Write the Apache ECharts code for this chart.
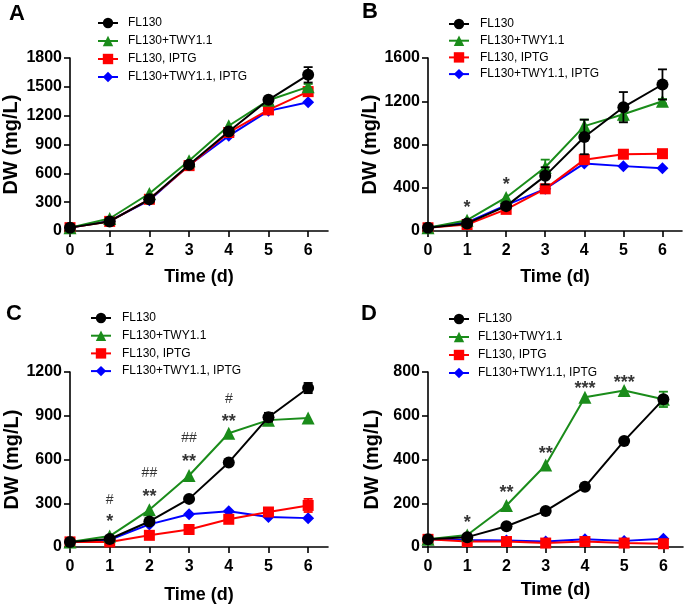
<!DOCTYPE html>
<html>
<head>
<meta charset="utf-8">
<script src="https://cdn.jsdelivr.net/npm/echarts@6/dist/echarts.min.js"></script>
<style>
  html, body { margin: 0; padding: 0; background: #fff; }
  #chart { width: 685px; height: 608px; }
</style>
</head>
<body>
<div id="chart"></div>
<script>
// ---------- data ----------
const days = [0, 1, 2, 3, 4, 5, 6];
const xTicks = [0, 1, 2, 3, 4, 5, 6];
const seriesNames = ['FL130', 'FL130+TWY1.1', 'FL130, IPTG', 'FL130+TWY1.1, IPTG'];

// Panel A
const A_fl130 = [35, 100, 330, 690, 1035, 1365, 1625];
const A_twy = [35, 130, 390, 730, 1095, 1360, 1500];
const A_iptg = [35, 100, 330, 680, 1025, 1260, 1450];
const A_twyIptg = [35, 105, 320, 685, 990, 1250, 1340];
const A_fl130Err = [0, 0, 0, 0, 0, 25, 80];
const A_twyErr = [0, 0, 0, 0, 0, 0, 30];
const A_iptgErr = [0, 0, 0, 0, 0, 0, 45];
const A_twyIptgErr = [0, 0, 0, 0, 0, 0, 0];

// Panel B
const B_fl130 = [30, 70, 230, 510, 870, 1145, 1355];
const B_twy = [30, 100, 310, 590, 970, 1080, 1200];
const B_iptg = [30, 60, 200, 390, 660, 710, 715];
const B_twyIptg = [30, 80, 240, 390, 625, 600, 580];
const B_fl130Err = [0, 10, 20, 80, 160, 140, 140];
const B_twyErr = [0, 0, 0, 70, 60, 60, 20];
const B_iptgErr = [0, 0, 0, 0, 0, 0, 0];
const B_twyIptgErr = [0, 0, 0, 0, 0, 0, 0];

// Panel C
const C_fl130 = [35, 55, 175, 330, 580, 890, 1090];
const C_twy = [35, 75, 255, 490, 780, 870, 885];
const C_iptg = [35, 35, 80, 120, 190, 240, 285];
const C_twyIptg = [35, 50, 155, 225, 245, 205, 198];
const C_fl130Err = [0, 0, 0, 0, 0, 30, 35];
const C_twyErr = [0, 0, 0, 0, 0, 0, 0];
const C_iptgErr = [0, 0, 0, 0, 0, 0, 45];
const C_twyIptgErr = [0, 0, 0, 0, 0, 0, 0];

// Panel D
const D_fl130 = [35, 45, 95, 165, 275, 485, 675];
const D_twy = [35, 55, 190, 375, 685, 715, 675];
const D_iptg = [35, 25, 25, 18, 25, 18, 15];
const D_twyIptg = [35, 32, 30, 25, 35, 28, 38];
const D_fl130Err = [0, 0, 0, 0, 0, 0, 15];
const D_twyErr = [0, 0, 0, 0, 0, 0, 35];
const D_iptgErr = [0, 0, 0, 0, 0, 0, 0];
const D_twyIptgErr = [0, 0, 0, 0, 0, 0, 0];

// y-axis ranges
const yMax = [1800, 1600, 1200, 800];
const yInterval = [300, 400, 300, 200];

// significance annotations [day, DW, text]
const annA = [];
const annB = [[1, 260, '*'], [2, 470, '*']];
const annC = [[1, 205, '*'], [2, 380, '**'], [3, 620, '**'], [4, 893, '**'],
              [1, 319, '#'], [2, 505, '##'], [3, 745, '##'], [4, 1013, '#']];
const annD = [[1, 132, '*'], [2, 269, '**'], [3, 448, '**'], [4, 747, '***'], [5, 774, '***']];

const panelLetters = ['A', 'B', 'C', 'D'];

// ---------- styling / layout ----------
const FONT = 'Liberation Sans, Arial, Helvetica, sans-serif';
const colors = ['#000000', '#1a8c1a', '#ff0000', '#0000ff'];
const symbols = ['circle', 'triangle', 'rect', 'diamond'];
const symbolSizes = [12, 13, 11, 12];
const zOrder = [6, 5, 4, 3];

const grids = [
  { left: 70, top: 58, width: 258, height: 173 },
  { left: 428, top: 58, width: 254, height: 173 },
  { left: 70, top: 372, width: 258, height: 175 },
  { left: 428, top: 372, width: 255, height: 175 }
];
const yNameGap = [49, 46, 48, 46];
const xNameGap = [37, 37, 39, 34];
const legendPos = [
  { left: 97, top: 16.5, gap: 5, pad: 5 },
  { left: 448, top: 17.5, gap: 3.7, pad: 6 },
  { left: 90, top: 311.5, gap: 4.7, pad: 6 },
  { left: 448, top: 312.5, gap: 5, pad: 4 }
];
const letterPos = [
  { left: 9, top: 3 }, { left: 362, top: 1 }, { left: 6, top: 303 }, { left: 361, top: 303 }
];

const panels = [
  { vals: [A_fl130, A_twy, A_iptg, A_twyIptg], errs: [A_fl130Err, A_twyErr, A_iptgErr, A_twyIptgErr], ann: annA },
  { vals: [B_fl130, B_twy, B_iptg, B_twyIptg], errs: [B_fl130Err, B_twyErr, B_iptgErr, B_twyIptgErr], ann: annB },
  { vals: [C_fl130, C_twy, C_iptg, C_twyIptg], errs: [C_fl130Err, C_twyErr, C_iptgErr, C_twyIptgErr], ann: annC },
  { vals: [D_fl130, D_twy, D_iptg, D_twyIptg], errs: [D_fl130Err, D_twyErr, D_iptgErr, D_twyIptgErr], ann: annD }
];

const axisLineStyle = { color: '#000', width: 1.6 };

const option = {
  animation: false,
  backgroundColor: '#fff',
  title: panelLetters.map((t, i) => ({
    text: t, left: letterPos[i].left, top: letterPos[i].top, padding: 0,
    textStyle: { fontSize: 22, fontWeight: 'bold', color: '#000', fontFamily: FONT }
  })),
  grid: grids.map(g => Object.assign({ containLabel: false }, g)),
  legend: legendPos.map(l => ({
    data: seriesNames,
    orient: 'vertical',
    left: l.left, top: l.top,
    itemWidth: 20, itemHeight: 13, itemGap: l.gap,
    padding: 0,
    selectedMode: false,
    textStyle: { fontSize: 12, color: '#000', fontFamily: FONT, padding: [0, 0, 0, l.pad], lineHeight: 13 }
  })),
  xAxis: grids.map((g, i) => ({
    gridIndex: i, type: 'value', min: 0, max: 6.5,
    name: 'Time (d)', nameLocation: 'middle', nameGap: xNameGap[i],
    nameTextStyle: { fontSize: 18, fontWeight: 'bold', color: '#000', fontFamily: FONT },
    axisLine: { show: true, onZero: false, lineStyle: axisLineStyle },
    axisTick: { show: true, length: 6, lineStyle: axisLineStyle, customValues: xTicks },
    axisLabel: { color: '#000', fontSize: 16, fontWeight: 'bold', fontFamily: FONT, margin: 12, customValues: xTicks,
                 formatter: v => String(v) },
    splitLine: { show: false }
  })),
  yAxis: grids.map((g, i) => ({
    gridIndex: i, type: 'value', min: 0, max: yMax[i], interval: yInterval[i],
    name: 'DW (mg/L)', nameLocation: 'middle', nameGap: yNameGap[i], nameRotate: 90,
    nameTextStyle: { fontSize: 20, fontWeight: 'bold', color: '#000', fontFamily: FONT },
    axisLine: { show: true, onZero: false, lineStyle: axisLineStyle },
    axisTick: { show: true, length: 6, lineStyle: axisLineStyle },
    axisLabel: { color: '#000', fontSize: 16, fontWeight: 'bold', fontFamily: FONT, margin: 8,
                 formatter: v => String(v) },
    splitLine: { show: false }
  })),
  series: []
};

panels.forEach((p, pi) => {
  p.vals.forEach((vals, si) => {
    // error bars
    const errData = vals.map((v, k) => [days[k], v, p.errs[si][k]]).filter(d => d[2] > 0);
    if (errData.length) {
      option.series.push({
        type: 'custom',
        xAxisIndex: pi, yAxisIndex: pi,
        z: zOrder[si],
        silent: true,
        data: errData,
        renderItem: (params, api) => {
          const x = api.value(0), y = api.value(1), e = api.value(2);
          const top = api.coord([x, y + e]);
          const bot = api.coord([x, y - e]);
          const hw = 4.5;
          const st = { stroke: colors[si], lineWidth: 1.8 };
          return {
            type: 'group',
            children: [
              { type: 'line', shape: { x1: top[0], y1: top[1], x2: bot[0], y2: bot[1] }, style: st },
              { type: 'line', shape: { x1: top[0] - hw, y1: top[1], x2: top[0] + hw, y2: top[1] }, style: st },
              { type: 'line', shape: { x1: bot[0] - hw, y1: bot[1], x2: bot[0] + hw, y2: bot[1] }, style: st }
            ]
          };
        }
      });
    }
    option.series.push({
      name: seriesNames[si],
      type: 'line',
      xAxisIndex: pi, yAxisIndex: pi,
      z: zOrder[si],
      data: vals.map((v, k) => [days[k], v]),
      symbol: symbols[si],
      symbolSize: symbolSizes[si],
      showSymbol: true,
      lineStyle: { color: colors[si], width: 2 },
      itemStyle: { color: colors[si] },
      emphasis: { disabled: true }
    });
  });
  // annotations
  const stars = p.ann.filter(a => a[2].indexOf('*') >= 0);
  const hashes = p.ann.filter(a => a[2].indexOf('#') >= 0);
  [[stars, 18, 'bold', 5], [hashes, 14, 'normal', 0]].forEach(([arr, fs, fw, off]) => {
    if (!arr.length) return;
    option.series.push({
      type: 'scatter',
      xAxisIndex: pi, yAxisIndex: pi,
      z: 10,
      silent: true,
      symbolSize: 0,
      data: arr.map(a => ({ name: a[2], value: [a[0], a[1]] })),
      label: {
        show: true, position: 'inside', formatter: '{b}',
        fontSize: fs, fontWeight: fw, color: '#000', fontFamily: FONT,
        offset: [0, off]
      }
    });
  });
});

const chart = echarts.init(document.getElementById('chart'), null, { renderer: 'canvas' });
chart.setOption(option);
</script>
</body>
</html>
